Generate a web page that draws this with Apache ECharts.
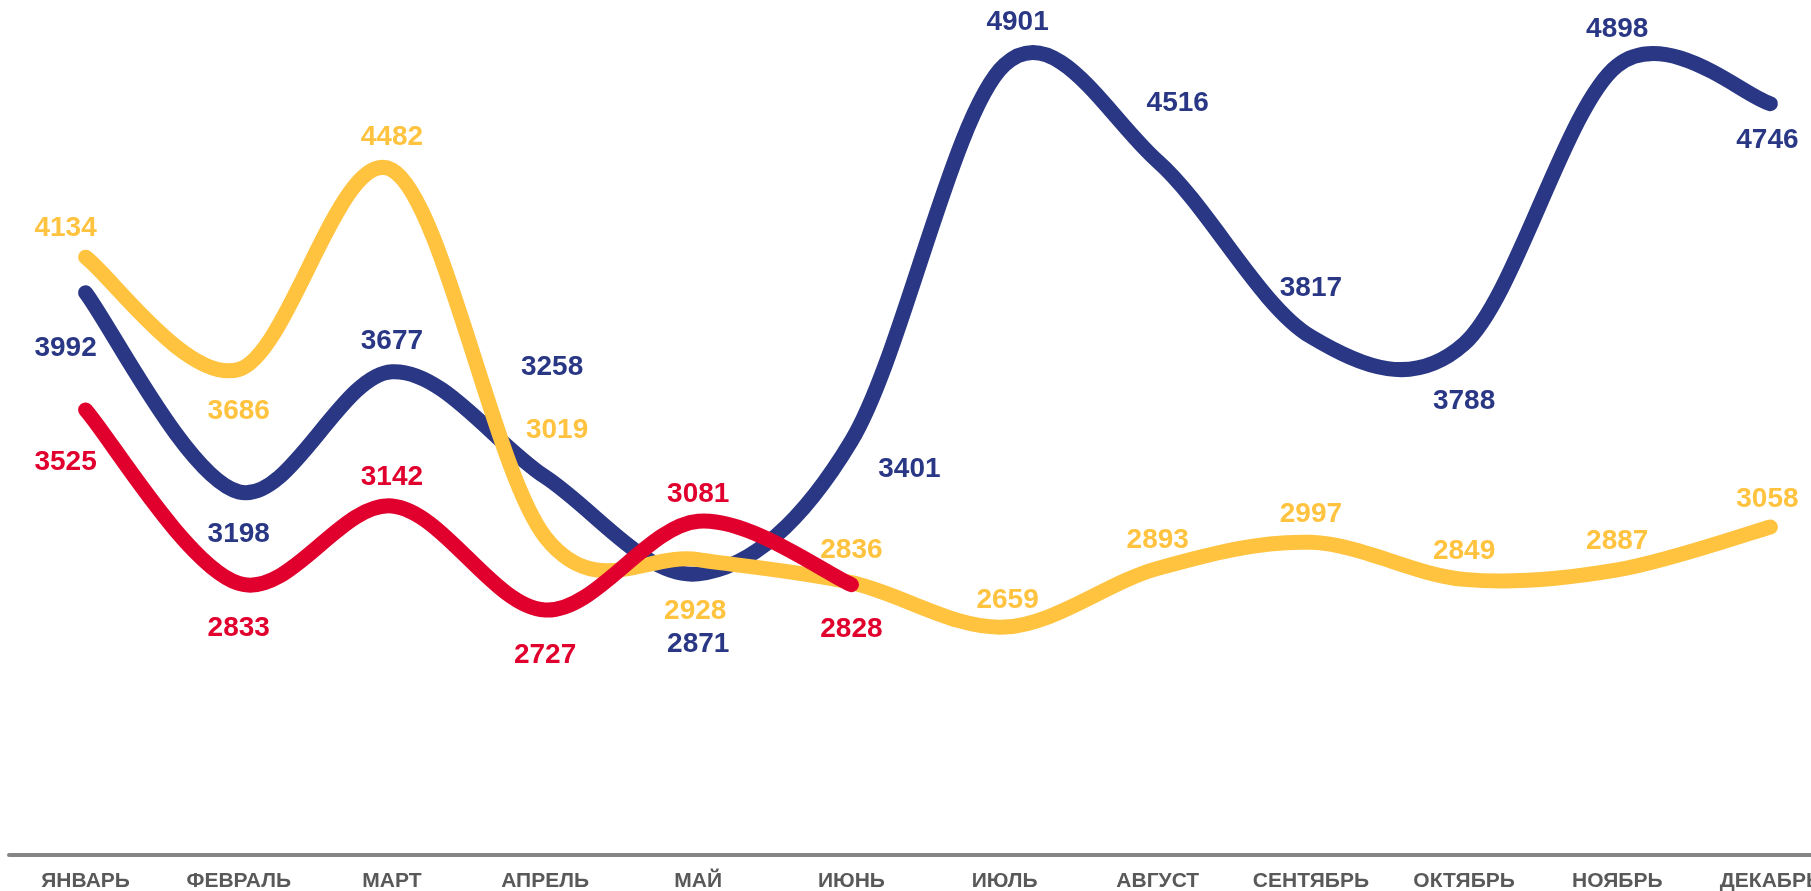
<!DOCTYPE html>
<html>
<head>
<meta charset="utf-8">
<script src="https://cdn.jsdelivr.net/npm/echarts@6/dist/echarts.min.js"></script>
<style>
html,body{margin:0;padding:0;background:#fff;}
#chart{width:1811px;height:891px;}
</style>
</head>
<body>
<div id="chart"></div>
<script>
const categories = ['ЯНВАРЬ','ФЕВРАЛЬ','МАРТ','АПРЕЛЬ','МАЙ','ИЮНЬ','ИЮЛЬ','АВГУСТ','СЕНТЯБРЬ','ОКТЯБРЬ','НОЯБРЬ','ДЕКАБРЬ'];
const blueValues = [3992, 3198, 3677, 3258, 2871, 3401, 4901, 4516, 3817, 3788, 4898, 4746];
const yellowValues = [4134, 3686, 4482, 3019, 2928, 2836, 2659, 2893, 2997, 2849, 2887, 3058];
const redValues = [3525, 2833, 3142, 2727, 3081, 2828];

// label offsets (style only)
const blueOffsets = [[-20,56],[0,42],[0,-30],[7,-110],[0,70],[58,28],[13,-43],[20,-58],[0,-48],[0,57],[0,-36],[-3,37]];
const yellowOffsets = [[-20,-29],[0,42],[0,-33],[12,-106],[-3,52],[0,-32],[3,-27],[0,-28],[0,-28],[0,-28],[0,-29],[-3,-28]];
const redOffsets = [[-20,52],[0,45],[0,-29],[0,45],[0,-27],[0,45]];

const BLUE = '#293785', YELLOW = '#FFC340', RED = '#E1002D';
const FONT = '"Liberation Sans", Arial, sans-serif';
const LINE_W = 15;

// smooth curve (Catmull-Rom -> Bezier) through points placed by the axes
function curveSeries(values, color) {
  return {
    type: 'custom',
    coordinateSystem: 'cartesian2d',
    clip: false,
    silent: true,
    z: 2,
    encode: { x: 0, y: 1 },
    data: values.map((v, i) => [i, v]),
    renderItem: function (params, api) {
      if (params.dataIndex !== 0) return null;
      const pts = values.map((v, i) => api.coord([i, v]));
      const n = pts.length;
      let d = 'M' + pts[0][0] + ' ' + pts[0][1];
      for (let i = 0; i < n - 1; i++) {
        const p0 = pts[Math.max(i - 1, 0)];
        const p1 = pts[i];
        const p2 = pts[i + 1];
        const p3 = pts[Math.min(i + 2, n - 1)];
        const c1x = p1[0] + (p2[0] - p0[0]) / 6;
        const c1y = p1[1] + (p2[1] - p0[1]) / 6;
        const c2x = p2[0] - (p3[0] - p1[0]) / 6;
        const c2y = p2[1] - (p3[1] - p1[1]) / 6;
        d += ' C' + c1x + ' ' + c1y + ' ' + c2x + ' ' + c2y + ' ' + p2[0] + ' ' + p2[1];
      }
      return {
        type: 'path',
        shape: { pathData: d },
        style: { fill: 'none', stroke: color, lineWidth: LINE_W, lineCap: 'round', lineJoin: 'round' }
      };
    },
    animation: false
  };
}

function labelSeries(values, offsets, color) {
  return {
    type: 'line',
    z: 5,
    symbol: 'circle',
    symbolSize: 0.01,
    showSymbol: true,
    itemStyle: { color: color },
    lineStyle: { opacity: 0, width: 0 },
    data: values.map((v, i) => ({ value: v, label: { offset: offsets[i] } })),
    label: {
      show: true,
      position: 'inside',
      color: color,
      fontFamily: FONT,
      fontWeight: 'bold',
      fontSize: 28
    },
    emphasis: { disabled: true },
    animation: false
  };
}

const chart = echarts.init(document.getElementById('chart'));
chart.setOption({
  backgroundColor: '#fff',
  animation: false,
  grid: { left: 9, top: 40, bottom: 36, width: 1838, containLabel: false, outerBoundsMode: 'none' },
  xAxis: {
    type: 'category',
    data: categories,
    boundaryGap: true,
    axisLine: { show: true, lineStyle: { color: '#858585', width: 4 } },
    axisTick: { show: false },
    axisLabel: {
      color: '#595959',
      fontFamily: FONT,
      fontWeight: 'bold',
      fontSize: 21,
      margin: 16,
      interval: 0,
      hideOverlap: false
    }
  },
  yAxis: {
    type: 'value',
    min: 1750,
    max: 5000,
    show: false,
    splitLine: { show: false }
  },
  series: [
    curveSeries(blueValues, BLUE),
    curveSeries(yellowValues, YELLOW),
    curveSeries(redValues, RED),
    labelSeries(blueValues, blueOffsets, BLUE),
    labelSeries(yellowValues, yellowOffsets, YELLOW),
    labelSeries(redValues, redOffsets, RED)
  ]
});
</script>
</body>
</html>
